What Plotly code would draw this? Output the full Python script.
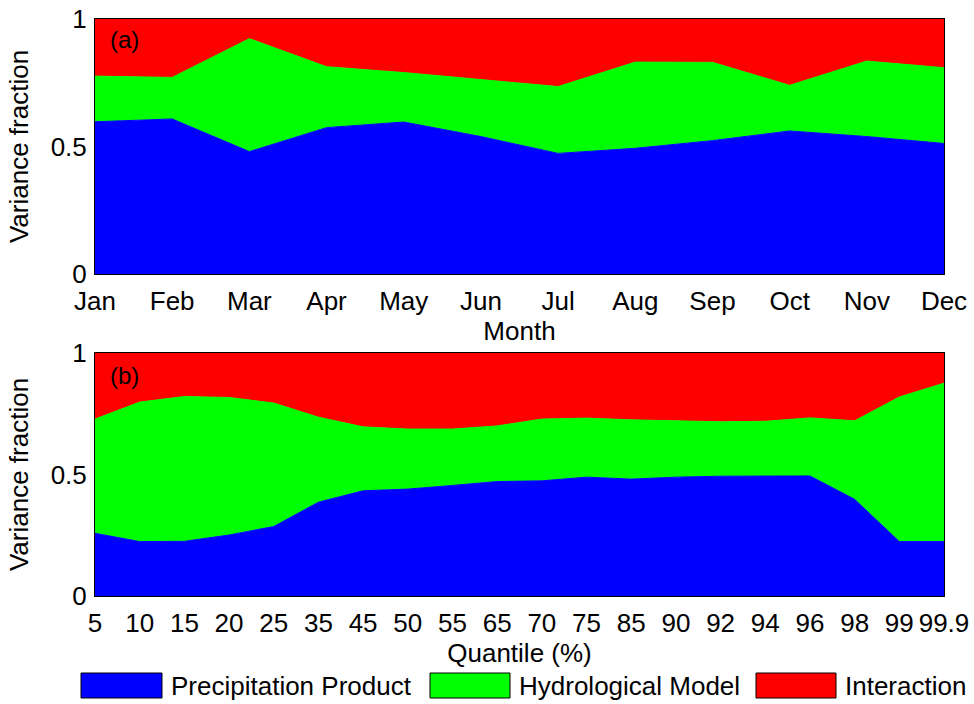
import plotly.graph_objects as go
from plotly.subplots import make_subplots

# ---- monthly variance decomposition (panel a) ----
months = ["Jan", "Feb", "Mar", "Apr", "May", "Jun",
          "Jul", "Aug", "Sep", "Oct", "Nov", "Dec"]
precip_month = [0.597, 0.608, 0.480, 0.574, 0.596, 0.539,
                0.473, 0.493, 0.523, 0.561, 0.539, 0.512]
hydro_month = [0.179, 0.163, 0.443, 0.239, 0.194, 0.222,
               0.262, 0.338, 0.307, 0.179, 0.296, 0.297]
inter_month = [0.224, 0.229, 0.077, 0.187, 0.210, 0.239,
               0.265, 0.169, 0.170, 0.260, 0.165, 0.191]

# ---- quantile variance decomposition (panel b) ----
quantiles = ["5", "10", "15", "20", "25", "35", "45", "50", "55", "65",
             "70", "75", "85", "90", "92", "94", "96", "98", "99", "99.9"]
precip_q = [0.258, 0.224, 0.225, 0.251, 0.286, 0.386, 0.433, 0.440, 0.455, 0.471,
            0.474, 0.489, 0.481, 0.489, 0.493, 0.493, 0.494, 0.398, 0.224, 0.224]
hydro_q = [0.470, 0.574, 0.596, 0.566, 0.508, 0.350, 0.263, 0.247, 0.232, 0.229,
           0.254, 0.243, 0.244, 0.231, 0.224, 0.226, 0.239, 0.323, 0.595, 0.652]
inter_q = [0.272, 0.202, 0.179, 0.183, 0.206, 0.264, 0.304, 0.313, 0.313, 0.300,
           0.272, 0.268, 0.275, 0.280, 0.283, 0.281, 0.267, 0.279, 0.181, 0.124]

components = ["Precipitation Product", "Hydrological Model", "Interaction"]
colors = ["#0000FF", "#00FF00", "#FF0000"]

FONT = "Liberation Sans, Arial, sans-serif"
FS = 26
W, H = 974, 704
ML, MR, MT, MB = 95, 30, 19, 108

fig = make_subplots(rows=2, cols=1, vertical_spacing=0.1)

for row, (xs, series, group) in enumerate([
        (months, [precip_month, hydro_month, inter_month], "a"),
        (quantiles, [precip_q, hydro_q, inter_q], "b")], start=1):
    for name, ys, col in zip(components, series, colors):
        fig.add_trace(go.Scatter(
            x=xs, y=ys, name=name, mode="lines", stackgroup=group,
            line=dict(color=col, width=1), fillcolor=col,
            showlegend=False, hoverinfo="x+y+name"), row=row, col=1)

plot_h = H - MT - MB
def py(p):
    """pixel row -> paper y"""
    return (H - MB - p) / plot_h
def px(p):
    """pixel column -> paper x"""
    return (p - ML) / (W - ML - MR)

axis_common = dict(showline=True, mirror=True, linecolor="black", linewidth=1,
                   showgrid=False, zeroline=False, ticks="", automargin=False,
                   tickfont=dict(family=FONT, size=FS, color="black"))
title_font = dict(family=FONT, size=FS, color="black")

fig.update_xaxes(type="category", range=[0, len(months) - 1], **axis_common,
                 ticklabelstandoff=4,
                 title=dict(text="Month", font=title_font, standoff=0), row=1, col=1)
fig.update_xaxes(type="category", range=[0, len(quantiles) - 1], **axis_common,
                 ticklabelstandoff=4,
                 title=dict(text="Quantile (%)", font=title_font, standoff=0), row=2, col=1)
for r in (1, 2):
    fig.update_yaxes(range=[0, 1], tickvals=[0, 0.5, 1], ticktext=["0", "0.5", "1"],
                     **axis_common, ticklabelstandoff=2,
                     title=dict(text="Variance fraction", font=title_font, standoff=14),
                     row=r, col=1)

fig.update_layout(
    yaxis=dict(domain=[py(274), py(19)]),
    yaxis2=dict(domain=[py(596), py(353)]),
)

# panel labels
for label, ypix in (("(a)", 39), ("(b)", 375)):
    fig.add_annotation(text=label, xref="paper", yref="paper", x=px(108), y=py(ypix),
                       xanchor="left", yanchor="middle", showarrow=False,
                       font=dict(family=FONT, size=24, color="black"))

# legend row beneath panel b
legend_items = [(81, 162, 169), (430, 510, 517), (756, 836, 843)]
for (x0, x1, tx), name, col in zip(legend_items, components, colors):
    fig.add_shape(type="rect", xref="paper", yref="paper",
                  x0=px(x0), x1=px(x1), y0=py(698), y1=py(673),
                  fillcolor=col, line=dict(color="black", width=1))
    fig.add_annotation(text=name, xref="paper", yref="paper", x=px(tx), y=py(686),
                       xanchor="left", yanchor="middle", showarrow=False,
                       font=dict(family=FONT, size=FS, color="black"))

fig.update_layout(
    width=W, height=H,
    margin=dict(l=ML, r=MR, t=MT, b=MB, pad=0),
    paper_bgcolor="white", plot_bgcolor="white",
    showlegend=False,
)

fig.write_html("out.html")
